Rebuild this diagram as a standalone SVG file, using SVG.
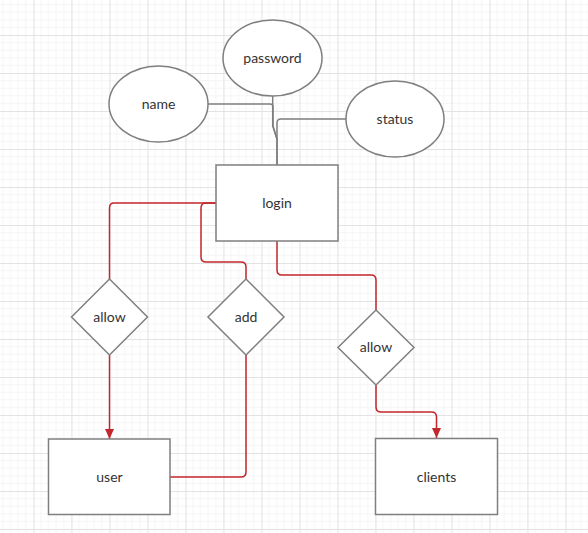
<svg xmlns="http://www.w3.org/2000/svg" width="588" height="533" viewBox="0 0 588 533">
<defs>
<pattern id="grid" patternUnits="userSpaceOnUse" x="33.4" y="35" width="38" height="38">
<path d="M7.6 0V38M15.2 0V38M22.8 0V38M30.4 0V38M0 7.6H38M0 15.2H38M0 22.8H38M0 30.4H38" stroke="#f5f5f5" stroke-width="1" fill="none"/>
<path d="M0.5 0V38M0 0.5H38" stroke="#e3e3e3" stroke-width="1.2" fill="none"/>
</pattern>
<marker id="arr" markerWidth="11" markerHeight="9" refX="10" refY="4.5" orient="auto" markerUnits="userSpaceOnUse">
<path d="M0,0 L10,4.5 L0,9 Z" fill="#c1272d"/>
</marker>
</defs>
<style>
.shape{fill:#fff;stroke:#7f7f7f;stroke-width:1.5}
.lbl{font-family:Lato,"Liberation Sans",sans-serif;font-size:14px;fill:#333;text-anchor:middle;dominant-baseline:central}
.g{fill:none;stroke:#7f7f7f;stroke-width:1.5}
.r{fill:none;stroke:#c1272d;stroke-width:1.5}
</style>
<rect width="588" height="533" fill="#fff"/>
<rect width="588" height="533" fill="url(#grid)"/>
<g id="connectors">
<path class="g" d="M272.7,96 V126 L277,139 V165"/>
<path class="g" d="M208,104 H270 Q273,104 273,107 V126 L277,139"/>
<path class="g" d="M346,119 H281 Q277,119 277,123 V165"/>
<path class="r" d="M216,203 H114 Q109.5,203 109.5,208 V279"/>
<path class="r" d="M216,203 H206 Q201,203 201,208 V257 Q201,262 206,262 H241 Q246,262 246,267 V279"/>
<path class="r" d="M277,241 V270 Q277,275 282,275 H371 Q376,275 376,280 V310"/>
<path class="r" d="M109.5,355 V439" marker-end="url(#arr)"/>
<path class="r" d="M246,355 V472 Q246,477 241,477 H170"/>
<path class="r" d="M376,385 V407 Q376,412 381,412 H431.5 Q436.5,412 436.5,417 V438" marker-end="url(#arr)"/>
</g>
<g id="password"><ellipse class="shape" cx="272.5" cy="58" rx="49.5" ry="38"/><text class="lbl" x="272.5" y="57">password</text></g>
<g id="name"><ellipse class="shape" cx="158.5" cy="104" rx="49.5" ry="38"/><text class="lbl" x="158.5" y="103">name</text></g>
<g id="status"><ellipse class="shape" cx="395" cy="119" rx="49" ry="38"/><text class="lbl" x="395" y="118">status</text></g>
<g id="login"><rect class="shape" x="216" y="165" width="122" height="76"/><text class="lbl" x="277" y="202">login</text></g>
<g id="allow1"><path class="shape" d="M109.5,279 L147.5,317 L109.5,355 L71.5,317 Z"/><text class="lbl" x="109.5" y="316">allow</text></g>
<g id="add"><path class="shape" d="M246,279 L284,317 L246,355 L208,317 Z"/><text class="lbl" x="246" y="316">add</text></g>
<g id="allow2"><path class="shape" d="M376,310 L414,347.5 L376,385 L338,347.5 Z"/><text class="lbl" x="376" y="346.5">allow</text></g>
<g id="user"><rect class="shape" x="48.5" y="439" width="121.5" height="75.5"/><text class="lbl" x="109.5" y="476">user</text></g>
<g id="clients"><rect class="shape" x="375.5" y="438.5" width="122" height="76"/><text class="lbl" x="436.5" y="476">clients</text></g>
</svg>
